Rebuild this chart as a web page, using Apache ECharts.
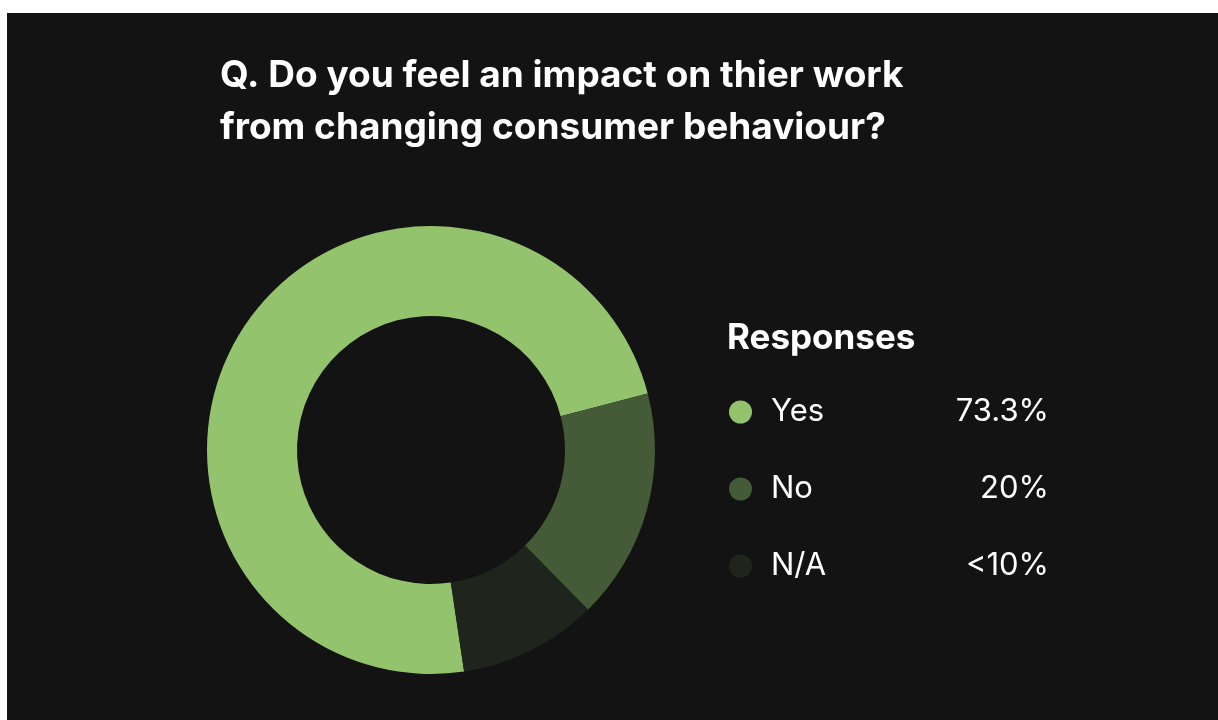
<!DOCTYPE html>
<html>
<head>
<meta charset="utf-8">
<script src="https://cdn.jsdelivr.net/npm/echarts@6/dist/echarts.min.js"></script>
<style>
  html, body { margin: 0; padding: 0; background: #ffffff; }
  #chart { width: 1218px; height: 720px; }
</style>
</head>
<body>
<div id="chart"></div>
<script>
// dados
var categorias = ['Yes', 'No', 'N/A'];
var valores = [73.3, 16.7, 10];
var rotulos = ['73.3%', '20%', '<10%'];
var cores = ['#93c46d', '#455a37', '#1f251c'];

function graficoRespostas() {
  var grafico = echarts.init(document.getElementById('chart'));

  var dados = categorias.map(function(nome, i) {
    return { name: nome, value: valores[i], itemStyle: { color: cores[i] } };
  });

  var option = {
    backgroundColor: '#ffffff',
    animation: false,
    graphic: [
      {
        type: 'rect',
        z: -10,
        shape: { x: 7, y: 13, width: 1211, height: 707 },
        style: { fill: '#131313' }
      }
    ],
    title: [
      {
        text: 'Q. Do you feel an impact on thier work\nfrom changing consumer behaviour?',
        left: 215,
        top: 45,
        textStyle: {
          color: '#ffffff',
          fontFamily: 'Inter',
          fontWeight: 'bold',
          fontSize: 37,
          lineHeight: 52
        }
      },
      {
        text: 'Responses',
        left: 722,
        top: 316,
        textStyle: {
          color: '#ffffff',
          fontFamily: 'Inter',
          fontWeight: 'bold',
          fontSize: 35
        }
      }
    ],
    legend: {
      orient: 'vertical',
      left: 724,
      top: 389,
      icon: 'circle',
      itemWidth: 23,
      itemHeight: 23,
      itemGap: 41,
      selectedMode: false,
      formatter: function(nome) {
        var i = categorias.indexOf(nome);
        return '{n|' + nome + '}{v|' + rotulos[i] + '}';
      },
      textStyle: {
        color: '#ffffff',
        fontFamily: 'Inter',
        fontSize: 31,
        lineHeight: 36,
        rich: {
          n: { width: 122, fontSize: 31, color: '#ffffff', fontFamily: 'Inter', padding: [0, 0, 0, 14] },
          v: { width: 156, align: 'right', fontSize: 31, color: '#ffffff', fontFamily: 'Inter' }
        }
      },
      data: categorias
    },
    series: [
      {
        name: 'Responses',
        type: 'pie',
        center: [431, 450],
        radius: [134, 224],
        startAngle: -81.5,
        clockwise: true,
        label: { show: false },
        labelLine: { show: false },
        emphasis: { disabled: true },
        data: dados
      }
    ]
  };

  grafico.setOption(option);
}

graficoRespostas();
</script>
</body>
</html>
